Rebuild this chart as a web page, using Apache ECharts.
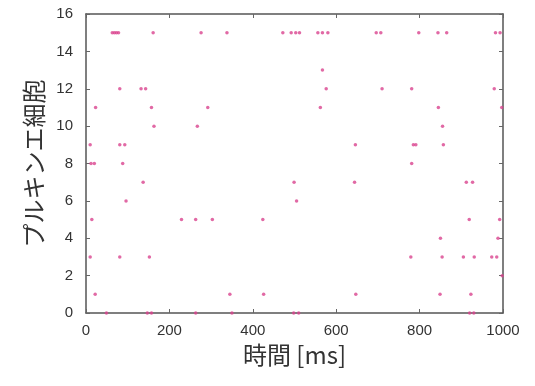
<!DOCTYPE html>
<html>
<head>
<meta charset="utf-8">
<script src="https://cdn.jsdelivr.net/npm/echarts@6/dist/echarts.min.js"></script>
<style>
html,body{margin:0;padding:0;background:#fff;}
#c{width:535px;height:386px;}
</style>
</head>
<body>
<div id="c"></div>
<script>
// Spike times [ms] for each Purkinje cell (index = cell number 0..15)
const spikesByNeuron = [
  [49, 147, 157, 263, 350, 498, 510, 920, 930],            // 0
  [22, 345, 426, 647, 849, 923],                           // 1
  [998],                                                   // 2
  [10, 81, 152, 779, 854, 905, 931, 973, 985],             // 3
  [850, 988],                                              // 4
  [14, 229, 263, 303, 424, 919, 992],                      // 5
  [96, 505],                                               // 6
  [137, 499, 644, 912, 927],                               // 7
  [12, 20, 88, 781],                                       // 8
  [10, 81, 93, 646, 785, 791, 857],                        // 9
  [163, 267, 855],                                         // 10
  [23, 157, 292, 562, 845, 997],                           // 11
  [81, 132, 143, 576, 710, 781, 979],                      // 12
  [567],                                                   // 13
  [],                                                      // 14
  [63, 68, 73, 78, 161, 276, 338, 472, 492, 503, 512, 556, 567, 580, 696, 707, 798, 844, 865, 982, 993] // 15
];
const xTicks = [0, 200, 400, 600, 800, 1000];
const yTicks = [0, 2, 4, 6, 8, 10, 12, 14, 16];
const xLabel = '時間 [ms]';
const yLabel = 'プルキンエ細胞';

const points = [];
spikesByNeuron.forEach((times, n) => times.forEach(t => points.push([t, n])));

const frame = {lineStyle: {color: '#555', width: 1.5}};
const tickStyle = {show: true, inside: true, length: 4, lineStyle: {color: '#666', width: 1}};
const labelFont = {fontFamily: 'Liberation Sans, Arial, sans-serif', fontSize: 15, color: '#333'};
const nameFont = {fontFamily: 'Noto Sans CJK JP, sans-serif', fontSize: 24, color: '#333'};

const chart = echarts.init(document.getElementById('c'), null, {renderer: 'canvas'});
chart.setOption({
  animation: false,
  backgroundColor: '#fff',
  grid: {left: 86, right: 32, top: 14, bottom: 73, containLabel: false},
  xAxis: [{
    type: 'value', min: xTicks[0], max: xTicks[xTicks.length - 1], interval: 200,
    position: 'bottom',
    name: xLabel, nameLocation: 'middle', nameGap: 24, nameTextStyle: nameFont,
    axisLine: {show: true, onZero: false, ...frame},
    axisTick: tickStyle,
    axisLabel: {margin: 10, formatter: v => String(v), ...labelFont},
    splitLine: {show: false}
  }, {
    type: 'value', min: xTicks[0], max: xTicks[xTicks.length - 1], interval: 200,
    position: 'top',
    axisLine: {show: true, onZero: false, ...frame},
    axisTick: tickStyle,
    axisLabel: {show: false},
    splitLine: {show: false}
  }],
  yAxis: [{
    type: 'value', min: yTicks[0], max: yTicks[yTicks.length - 1], interval: 2,
    position: 'left',
    name: yLabel, nameLocation: 'middle', nameGap: 37, nameRotate: 90, nameTextStyle: nameFont,
    axisLine: {show: true, onZero: false, ...frame},
    axisTick: tickStyle,
    axisLabel: {margin: 13, formatter: v => String(v), ...labelFont},
    splitLine: {show: false}
  }, {
    type: 'value', min: yTicks[0], max: yTicks[yTicks.length - 1], interval: 2,
    position: 'right',
    axisLine: {show: true, onZero: false, ...frame},
    axisTick: tickStyle,
    axisLabel: {show: false},
    splitLine: {show: false}
  }],
  series: [{
    type: 'scatter',
    xAxisIndex: 0, yAxisIndex: 0,
    data: points,
    symbol: 'circle',
    symbolSize: 3.5,
    itemStyle: {color: '#d9448e'},
    clip: false
  }]
});
</script>
</body>
</html>
